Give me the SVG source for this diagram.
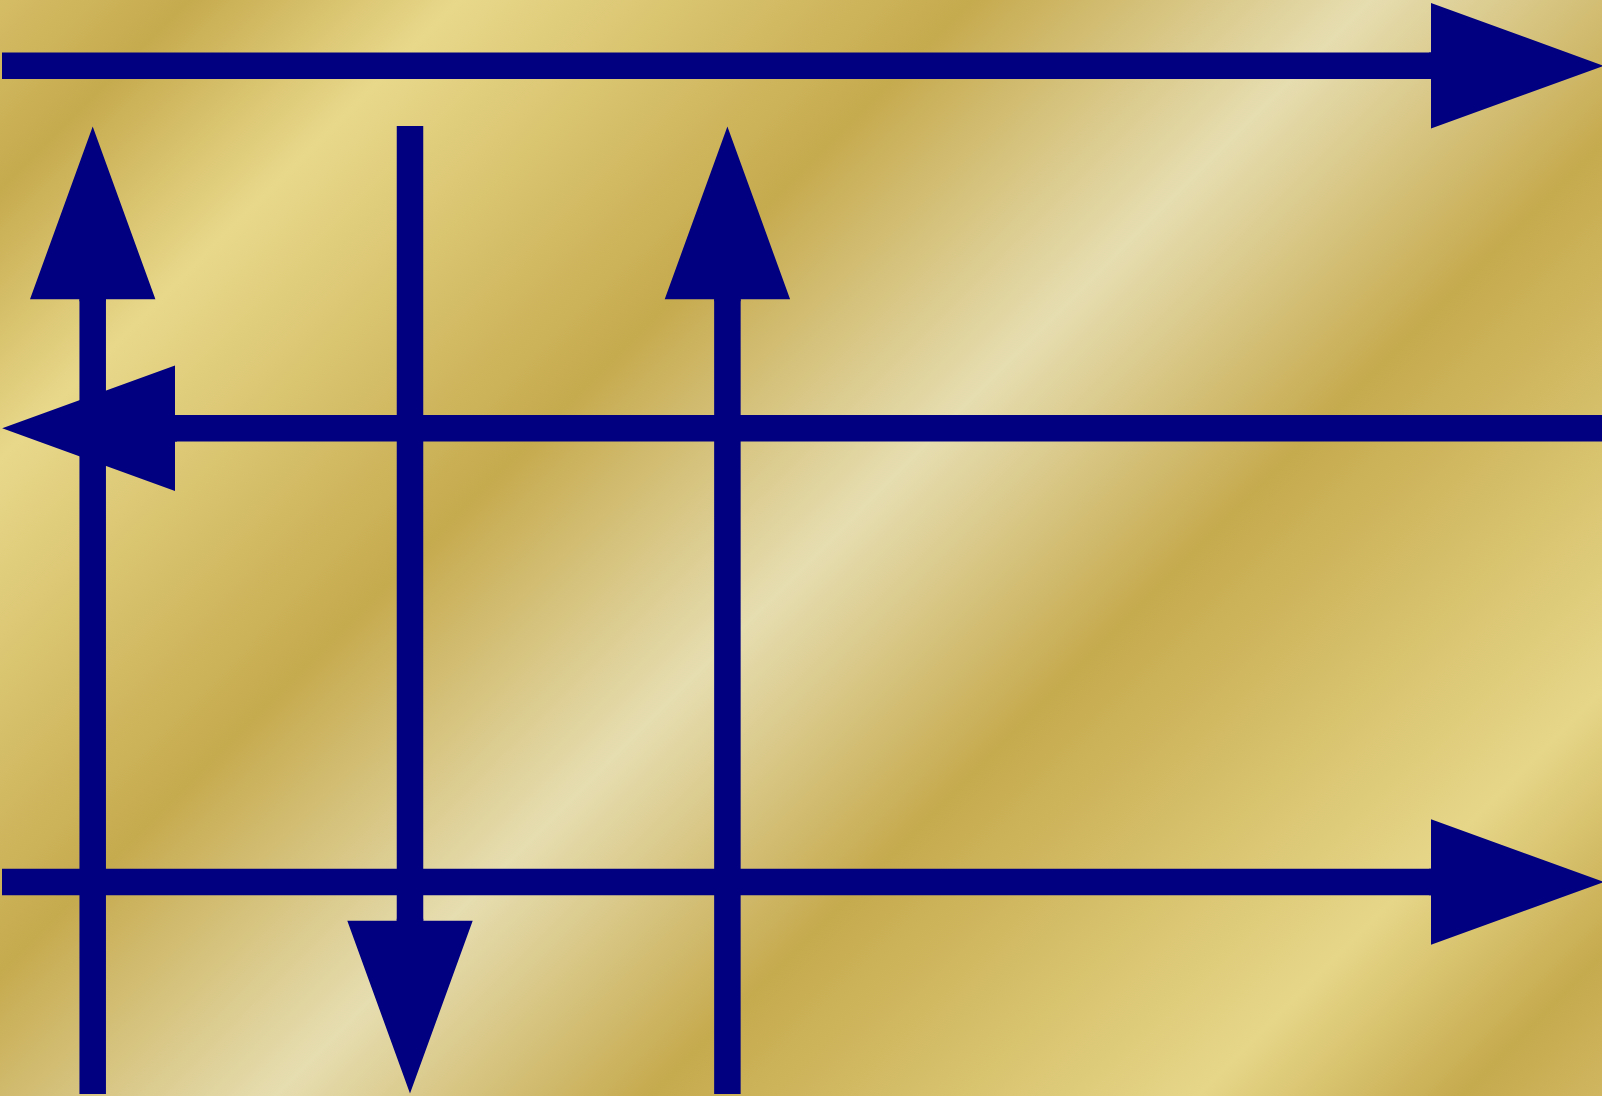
<svg xmlns="http://www.w3.org/2000/svg" width="1602" height="1096" viewBox="0 0 1602 1096">
  <style>
    .conn { stroke: #000080; stroke-width: 26.5; fill: none; marker-end: url(#head); }
  </style>
  <defs>
    <linearGradient id="gold" gradientUnits="userSpaceOnUse" x1="0" y1="0" x2="1349" y2="1349">
      <stop offset="0" stop-color="#d5bd66"/>
      <stop offset="0.07" stop-color="#c6aa4e"/>
      <stop offset="0.17" stop-color="#e8d88a"/>
      <stop offset="0.36" stop-color="#c6aa4e"/>
      <stop offset="0.508" stop-color="#e6ddb0"/>
      <stop offset="0.647" stop-color="#c6aa4e"/>
      <stop offset="0.85" stop-color="#e6d688"/>
      <stop offset="0.948" stop-color="#c6aa4e"/>
      <stop offset="1" stop-color="#d0b660"/>
    </linearGradient>
    <marker id="head" markerUnits="userSpaceOnUse" markerWidth="174" markerHeight="126" refX="0" refY="62.7" orient="auto" overflow="visible">
      <path d="M-2,49.45 L0,49.45 L0,0 L172.8,62.7 L0,125.4 L0,75.95 L-2,75.95 Z" fill="#000080"/>
    </marker>
  </defs>
  <rect id="background" x="0" y="0" width="1602" height="1096" fill="url(#gold)"/>
  <g id="connectors">
    <line id="top-arrow" class="conn" x1="2" y1="65.8" x2="1431" y2="65.8"/>
    <line id="middle-arrow" class="conn" x1="1602" y1="428.3" x2="175" y2="428.3"/>
    <line id="bottom-arrow" class="conn" x1="2" y1="882" x2="1431" y2="882"/>
    <line id="left-up-arrow" class="conn" x1="92.7" y1="1094" x2="92.7" y2="299.3"/>
    <line id="center-down-arrow" class="conn" x1="410" y1="126" x2="410" y2="920.7"/>
    <line id="right-up-arrow" class="conn" x1="727.4" y1="1094" x2="727.4" y2="299.3"/>
  </g>
</svg>
